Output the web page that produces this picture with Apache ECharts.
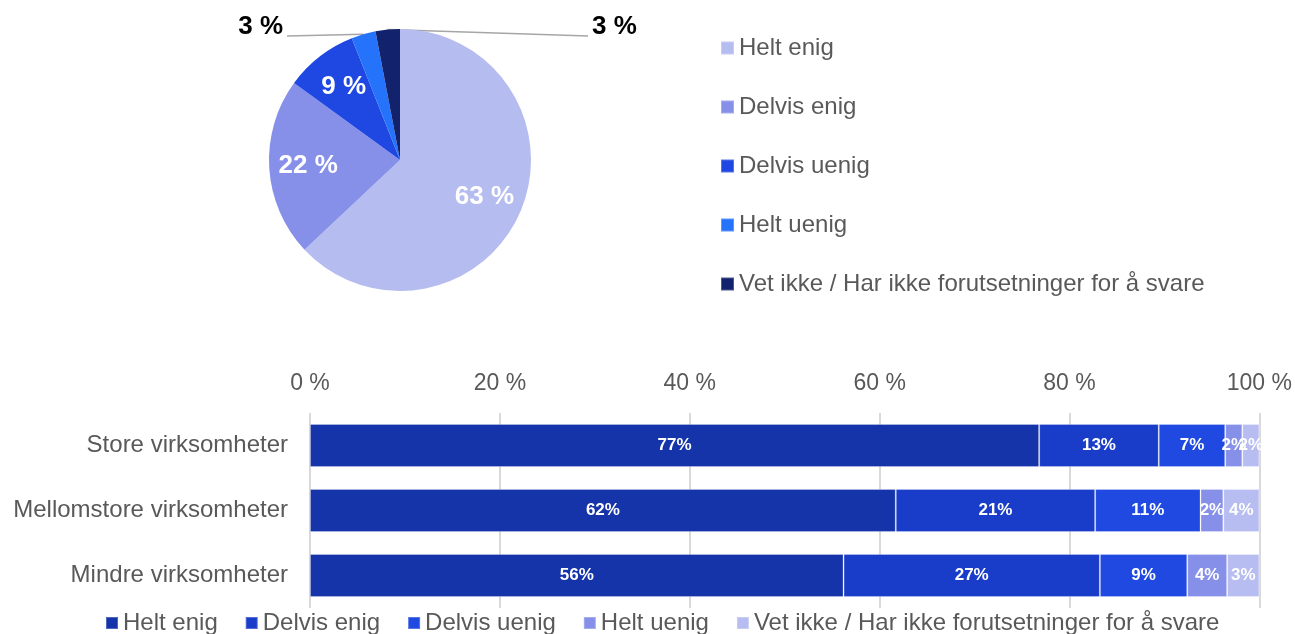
<!DOCTYPE html>
<html>
<head>
<meta charset="utf-8">
<script src="https://cdn.jsdelivr.net/npm/echarts@6/dist/echarts.min.js"></script>
<style>
  html, body { margin: 0; padding: 0; background: #fff; }
  #chart { width: 1295px; height: 634px; }
</style>
</head>
<body>
<div id="chart"></div>
<script>
// svarkategorier (felles for kake og søyler)
const answerNames = ['Helt enig', 'Delvis enig', 'Delvis uenig', 'Helt uenig', 'Vet ikke / Har ikke forutsetninger for å svare'];

// kakediagram
const pieValues = [63, 22, 9, 3, 3];
const pieColors = ['#b5bcef', '#8690e9', '#1f47e1', '#2673fb', '#12226c'];

// søylediagram
const categories = ['Store virksomheter', 'Mellomstore virksomheter', 'Mindre virksomheter'];
const heltEnig = [76.8, 61.7, 56.2];
const delvisEnig = [12.6, 21.0, 27.0];
const delvisUenig = [7.0, 11.1, 9.2];
const heltUenig = [1.8, 2.4, 4.2];
const vetIkke = [1.8, 3.8, 3.4];
const barColors = ['#1634a9', '#1a3dc9', '#1f49e0', '#8690e8', '#b7bdf0'];
const xTicks = [0, 20, 40, 60, 80, 100];

const FONT = "'Liberation Sans', Arial, sans-serif";
const TEXT = '#595959';
const PIE_CENTER = [400, 160];
const PIE_R = 131;

const chart = echarts.init(document.getElementById('chart'));

// punkt på kanten av sektor i (midtvinkel), brukt som ende på etikettlinjen
function arcPoint(i) {
  const total = pieValues.reduce((a, b) => a + b, 0);
  const before = pieValues.slice(0, i).reduce((a, b) => a + b, 0);
  const ang = (before + pieValues[i] / 2) / total * Math.PI * 2;
  return [PIE_CENTER[0] + PIE_R * Math.sin(ang), PIE_CENTER[1] - PIE_R * Math.cos(ang)];
}

const barSeries = [heltEnig, delvisEnig, delvisUenig, heltUenig, vetIkke].map((vals, i) => ({
  name: answerNames[i],
  type: 'bar',
  stack: 'total',
  barWidth: 43,
  data: vals,
  itemStyle: { color: barColors[i], borderColor: 'rgba(255,255,255,0.25)', borderWidth: 1 },
  label: {
    show: true,
    position: 'inside',
    color: '#fff',
    fontFamily: FONT,
    fontWeight: 'bold',
    fontSize: 17,
    formatter: p => Math.round(p.value) + '%'
  },
  silent: true
}));

// små andeler får etikett utenfor kaka
const pieData = pieValues.map((v, i) => {
  const small = v < 5;
  return {
    name: answerNames[i],
    value: v,
    itemStyle: { color: pieColors[i] },
    label: small
      ? { show: true, position: 'outside', color: '#000', fontWeight: 'bold', fontSize: 26, fontFamily: FONT, formatter: '{c} %' }
      : { show: false },
    labelLine: { show: small, lineStyle: { color: '#a6a6a6', width: 1.5 } }
  };
});

// gjennomsiktig ring som bare bærer de innvendige etikettene
const pieLabelData = pieValues.map((v, i) => ({
  name: answerNames[i],
  value: v,
  label: { show: v >= 5 }
}));

const option = {
  animation: false,
  textStyle: { fontFamily: FONT },
  legend: [
    {
      orient: 'vertical',
      left: 715,
      top: 30,
      itemWidth: 13,
      itemHeight: 13,
      itemGap: 33,
      icon: 'rect',
      textStyle: { color: TEXT, fontSize: 24, fontFamily: FONT, lineHeight: 26 },
      data: answerNames.map((n, i) => ({ name: n, itemStyle: { color: pieColors[i] } })),
      selectedMode: false
    },
    {
      orient: 'horizontal',
      left: 100,
      top: 606,
      itemWidth: 12,
      itemHeight: 12,
      itemGap: 27,
      icon: 'rect',
      textStyle: { color: TEXT, fontSize: 24, fontFamily: FONT },
      data: answerNames.map((n, i) => ({ name: n, itemStyle: { color: barColors[i] } })),
      selectedMode: false
    }
  ],
  grid: { left: 310, right: 35, top: 413, height: 195 },
  xAxis: {
    type: 'value',
    position: 'top',
    min: xTicks[0],
    max: xTicks[xTicks.length - 1],
    interval: xTicks[1] - xTicks[0],
    axisLine: { show: false },
    axisTick: { show: false },
    axisLabel: { color: TEXT, fontSize: 23, fontFamily: FONT, margin: 18, formatter: '{value} %' },
    splitLine: { lineStyle: { color: '#d9d9d9', width: 2 } }
  },
  yAxis: {
    type: 'category',
    inverse: true,
    data: categories,
    axisLine: { show: false },
    axisTick: { show: false },
    axisLabel: { color: TEXT, fontSize: 24, fontFamily: FONT, margin: 22 }
  },
  series: [
    {
      type: 'pie',
      center: PIE_CENTER,
      radius: PIE_R,
      startAngle: 90,
      clockwise: true,
      silent: true,
      data: pieData,
      labelLayout: p => {
        if (p.dataIndex === 3) {
          return { x: 283, y: 27, align: 'right', verticalAlign: 'middle',
            labelLinePoints: [[287, 36], [287, 36], arcPoint(3)] };
        }
        if (p.dataIndex === 4) {
          return { x: 592, y: 27, align: 'left', verticalAlign: 'middle',
            labelLinePoints: [[588, 36], [588, 36], arcPoint(4)] };
        }
      }
    },
    {
      type: 'pie',
      center: PIE_CENTER,
      radius: [47, PIE_R],
      startAngle: 90,
      clockwise: true,
      silent: true,
      itemStyle: { color: 'rgba(0,0,0,0)' },
      label: { position: 'inside', color: '#fff', fontWeight: 'bold', fontSize: 26, fontFamily: FONT, formatter: '{c} %' },
      labelLine: { show: false },
      data: pieLabelData
    },
    ...barSeries
  ]
};

chart.setOption(option);
</script>
</body>
</html>
